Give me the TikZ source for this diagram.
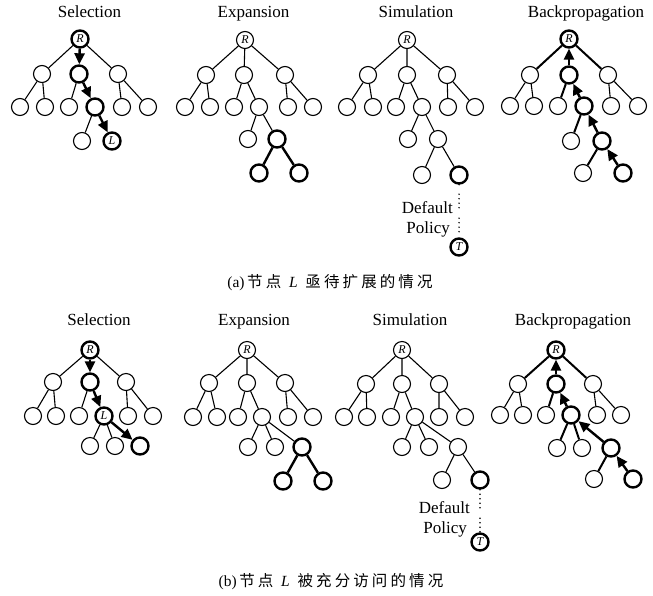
\documentclass[tikz,border=0pt]{standalone}
\usepackage{fontspec}
\setmainfont{Liberation Serif}
\newfontfamily\cjk[LetterSpace=20]{Noto Sans CJK SC}
\usetikzlibrary{arrows.meta}
\begin{document}
\begin{tikzpicture}[x=1pt,y=-1pt,
  nd/.style={circle, draw, line width=1.1pt, minimum size=17pt, inner sep=0pt, font=\fontsize{12}{12}\selectfont\itshape},
  hl/.style={line width=2.4pt},
  ln/.style={line width=1.1pt},
  md/.style={line width=2pt},
  arr/.style={line width=2.4pt, -{Triangle[length=11pt,width=10pt]}},
  ttl/.style={anchor=base, font=\fontsize{17}{17}\selectfont, inner sep=0pt},
  lbl/.style={anchor=base east, font=\fontsize{17}{17}\selectfont, inner sep=0pt},
  captxt/.style={font=\fontsize{15.5}{15.5}\selectfont, inner sep=0pt},
  dotsa/.style={line width=1.6pt, line cap=round, dash pattern=on 0pt off 9.5pt on 0pt off 4.5pt on 0pt off 4.5pt on 0pt off 4.5pt on 0pt off 10.5pt on 0pt off 4.5pt on 0pt off 4.5pt on 0pt off 4.5pt on 0pt off 40pt},
  dotsb/.style={line width=1.6pt, line cap=round, dash pattern=on 0pt off 4.5pt on 0pt off 4.5pt on 0pt off 4.5pt on 0pt off 4.5pt on 0pt off 10.5pt on 0pt off 4.5pt on 0pt off 4.5pt on 0pt off 4.5pt on 0pt off 40pt}]
\useasboundingbox (0,0) rectangle (653,595);

% ===== (a) Selection =====
\node[ttl] (a1t) at (89.5,17.5) {Selection};
\node[nd,hl] (a1R) at (80,39) {R};
\node[nd] (a1A) at (42,74) {};
\node[nd,hl] (a1B) at (79,74) {};
\node[nd] (a1C) at (118,74) {};
\node[nd] (a1a1) at (20,107) {};
\node[nd] (a1a2) at (45,107) {};
\node[nd] (a1b1) at (69,107) {};
\node[nd,hl] (a1b2) at (95,107) {};
\node[nd] (a1c1) at (122,107) {};
\node[nd] (a1c2) at (148,107) {};
\node[nd] (a1d1) at (82,141) {};
\node[nd,hl] (a1L) at (112,141) {L};
\draw[ln] (a1R)--(a1A) (a1R)--(a1C) (a1A)--(a1a1) (a1A)--(a1a2) (a1B)--(a1b1) (a1C)--(a1c1) (a1C)--(a1c2) (a1b2)--(a1d1);
\draw[arr] (a1R)--(a1B);
\draw[arr] (a1B)--(a1b2);
\draw[arr] (a1b2)--(a1L);

% ===== (a) Expansion =====
\node[ttl] (a2t) at (253.5,17.5) {Expansion};
\node[nd] (a2R) at (245,40) {R};
\node[nd] (a2A) at (206,75) {};
\node[nd] (a2B) at (244,75) {};
\node[nd] (a2C) at (285,75) {};
\node[nd] (a2a1) at (185,107) {};
\node[nd] (a2a2) at (210,107) {};
\node[nd] (a2b1) at (234,107) {};
\node[nd] (a2b2) at (259,107) {};
\node[nd] (a2c1) at (288,107) {};
\node[nd] (a2c2) at (313,107) {};
\node[nd] (a2d1) at (248,139) {};
\node[nd,hl] (a2L) at (277,139) {};
\node[nd,hl] (a2e1) at (259,173) {};
\node[nd,hl] (a2e2) at (299,173) {};
\draw[ln] (a2R)--(a2A) (a2R)--(a2B) (a2R)--(a2C) (a2A)--(a2a1) (a2A)--(a2a2) (a2B)--(a2b1) (a2B)--(a2b2) (a2C)--(a2c1) (a2C)--(a2c2) (a2b2)--(a2d1) (a2b2)--(a2L);
\draw[hl] (a2L)--(a2e1) (a2L)--(a2e2);

% ===== (a) Simulation =====
\node[ttl] (a3t) at (416,17.5) {Simulation};
\node[nd] (a3R) at (407,40) {R};
\node[nd] (a3A) at (368,75) {};
\node[nd] (a3B) at (407,75) {};
\node[nd] (a3C) at (447,75) {};
\node[nd] (a3a1) at (347,107) {};
\node[nd] (a3a2) at (373,107) {};
\node[nd] (a3b1) at (396,107) {};
\node[nd] (a3b2) at (422,107) {};
\node[nd] (a3c1) at (448,107) {};
\node[nd] (a3c2) at (475,107) {};
\node[nd] (a3d1) at (408,139) {};
\node[nd] (a3d2) at (438,139) {};
\node[nd] (a3e1) at (422,175) {};
\node[nd,hl] (a3e2) at (459,175) {};
\node[nd,hl] (a3T) at (459,247) {T};
\draw[ln] (a3R)--(a3A) (a3R)--(a3B) (a3R)--(a3C) (a3A)--(a3a1) (a3A)--(a3a2) (a3B)--(a3b1) (a3B)--(a3b2) (a3C)--(a3c1) (a3C)--(a3c2) (a3b2)--(a3d1) (a3b2)--(a3d2) (a3d2)--(a3e1) (a3d2)--(a3e2);
\draw[dotsa] (a3e2)--(a3T);
\node[lbl] (a3p1) at (453,213) {Default};
\node[lbl] (a3p2) at (450,233) {Policy};

% ===== (a) Backpropagation =====
\node[ttl] (a4t) at (586,17.5) {Backpropagation};
\node[nd,hl] (a4R) at (569,39) {R};
\node[nd] (a4A) at (530,75) {};
\node[nd,hl] (a4B) at (569,75) {};
\node[nd] (a4C) at (608,75) {};
\node[nd] (a4a1) at (510,106) {};
\node[nd] (a4a2) at (534,106) {};
\node[nd] (a4b1) at (558,106) {};
\node[nd,hl] (a4b2) at (584,106) {};
\node[nd] (a4c1) at (611,106) {};
\node[nd] (a4c2) at (638,106) {};
\node[nd] (a4d1) at (571,141) {};
\node[nd,hl] (a4d2) at (602,141) {};
\node[nd] (a4e1) at (583,173) {};
\node[nd,hl] (a4e2) at (623,173) {};
\draw[ln] (a4A)--(a4a1) (a4A)--(a4a2) (a4C)--(a4c1) (a4C)--(a4c2);
\draw[md] (a4R)--(a4A) (a4R)--(a4C) (a4B)--(a4b1) (a4b2)--(a4d1) (a4d2)--(a4e1);
\draw[arr] (a4B)--(a4R);
\draw[arr] (a4b2)--(a4B);
\draw[arr] (a4d2)--(a4b2);
\draw[arr] (a4e2)--(a4d2);

\node[captxt] (capa) at (330,283) {(a)\,{\cjk 节点}\ \ \textit{L}\ \ {\cjk 亟待扩展的情况}};

% ===== (b) Selection =====
\node[ttl] (b1t) at (99,325.5) {Selection};
\node[nd,hl] (b1R) at (90,350) {R};
\node[nd] (b1A) at (53,382) {};
\node[nd,hl] (b1B) at (90,382) {};
\node[nd] (b1C) at (126,382) {};
\node[nd] (b1a1) at (33,416) {};
\node[nd] (b1a2) at (56,416) {};
\node[nd] (b1b1) at (79,416) {};
\node[nd,hl] (b1L) at (104,416) {L};
\node[nd] (b1c1) at (128,416) {};
\node[nd] (b1c2) at (153,416) {};
\node[nd] (b1d1) at (90,446) {};
\node[nd] (b1d2) at (115,446) {};
\node[nd,hl] (b1d3) at (140,446) {};
\draw[ln] (b1R)--(b1A) (b1R)--(b1C) (b1A)--(b1a1) (b1A)--(b1a2) (b1B)--(b1b1) (b1C)--(b1c1) (b1C)--(b1c2) (b1L)--(b1d1) (b1L)--(b1d2);
\draw[arr] (b1R)--(b1B);
\draw[arr] (b1B)--(b1L);
\draw[arr] (b1L)--(b1d3);

% ===== (b) Expansion =====
\node[ttl] (b2t) at (254,325.5) {Expansion};
\node[nd] (b2R) at (247,350) {R};
\node[nd] (b2A) at (209,383) {};
\node[nd] (b2B) at (247,383) {};
\node[nd] (b2C) at (285,383) {};
\node[nd] (b2a1) at (193,417) {};
\node[nd] (b2a2) at (217,417) {};
\node[nd] (b2b1) at (238,417) {};
\node[nd] (b2b2) at (262,417) {};
\node[nd] (b2c1) at (288,417) {};
\node[nd] (b2c2) at (313,417) {};
\node[nd] (b2d1) at (248,447) {};
\node[nd] (b2d2) at (275,447) {};
\node[nd,hl] (b2L) at (302,447) {};
\node[nd,hl] (b2e1) at (283,481) {};
\node[nd,hl] (b2e2) at (323,481) {};
\draw[ln] (b2R)--(b2A) (b2R)--(b2B) (b2R)--(b2C) (b2A)--(b2a1) (b2A)--(b2a2) (b2B)--(b2b1) (b2B)--(b2b2) (b2C)--(b2c1) (b2C)--(b2c2) (b2b2)--(b2d1) (b2b2)--(b2d2) (b2b2)--(b2L);
\draw[hl] (b2L)--(b2e1) (b2L)--(b2e2);

% ===== (b) Simulation =====
\node[ttl] (b3t) at (410,325.5) {Simulation};
\node[nd] (b3R) at (402,350) {R};
\node[nd] (b3A) at (366,384) {};
\node[nd] (b3B) at (402,384) {};
\node[nd] (b3C) at (439,384) {};
\node[nd] (b3a1) at (344,417) {};
\node[nd] (b3a2) at (367,417) {};
\node[nd] (b3b1) at (391,417) {};
\node[nd] (b3b2) at (415,417) {};
\node[nd] (b3c1) at (439,417) {};
\node[nd] (b3c2) at (465,417) {};
\node[nd] (b3d1) at (402,447) {};
\node[nd] (b3d2) at (429,447) {};
\node[nd] (b3d3) at (458,447) {};
\node[nd] (b3e1) at (442,480) {};
\node[nd,hl] (b3e2) at (480,480) {};
\node[nd,hl] (b3T) at (480,542) {T};
\draw[ln] (b3R)--(b3A) (b3R)--(b3B) (b3R)--(b3C) (b3A)--(b3a1) (b3A)--(b3a2) (b3B)--(b3b1) (b3B)--(b3b2) (b3C)--(b3c1) (b3C)--(b3c2) (b3b2)--(b3d1) (b3b2)--(b3d2) (b3b2)--(b3d3) (b3d3)--(b3e1) (b3d3)--(b3e2);
\draw[dotsb] (b3e2)--(b3T);
\node[lbl] (b3p1) at (470,513) {Default};
\node[lbl] (b3p2) at (467,533) {Policy};

% ===== (b) Backpropagation =====
\node[ttl] (b4t) at (573,325.5) {Backpropagation};
\node[nd,hl] (b4R) at (556,350) {R};
\node[nd] (b4A) at (518,384) {};
\node[nd,hl] (b4B) at (556,384) {};
\node[nd] (b4C) at (593,384) {};
\node[nd] (b4a1) at (500,415) {};
\node[nd] (b4a2) at (523,415) {};
\node[nd] (b4b1) at (546,415) {};
\node[nd,hl] (b4b2) at (571,415) {};
\node[nd] (b4c1) at (597,415) {};
\node[nd] (b4c2) at (621,415) {};
\node[nd] (b4d1) at (557,448) {};
\node[nd] (b4d2) at (582,448) {};
\node[nd,hl] (b4d3) at (611,448) {};
\node[nd] (b4e1) at (594,479) {};
\node[nd,hl] (b4e2) at (633,479) {};
\draw[ln] (b4A)--(b4a1) (b4A)--(b4a2) (b4C)--(b4c1) (b4C)--(b4c2);
\draw[md] (b4R)--(b4A) (b4R)--(b4C) (b4B)--(b4b1) (b4b2)--(b4d1) (b4b2)--(b4d2) (b4d3)--(b4e1);
\draw[arr] (b4B)--(b4R);
\draw[arr] (b4b2)--(b4B);
\draw[arr] (b4d3)--(b4b2);
\draw[arr] (b4e2)--(b4d3);

\node[captxt] (capb) at (331,582) {(b)\,{\cjk 节点}\ \ \textit{L}\ \ {\cjk 被充分访问的情况}};
\end{tikzpicture}
\end{document}
